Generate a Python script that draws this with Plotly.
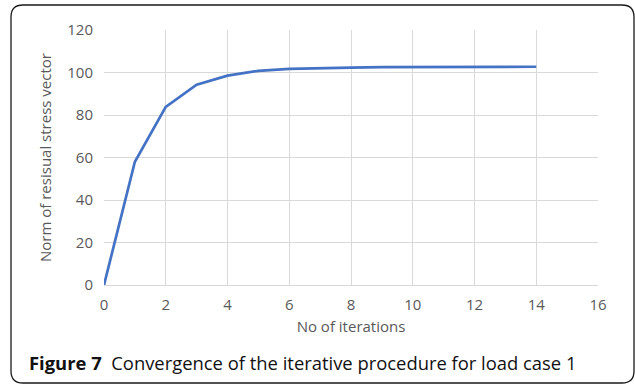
import plotly.graph_objects as go

# Convergence history of the iterative procedure (load case 1)
iterations = [0, 1, 2, 3, 4, 5, 6, 7, 8, 9, 10, 11, 12, 13, 14]
residual_norm = [0, 58.0, 83.8, 94.3, 98.5, 100.8, 101.7, 102.1, 102.3, 102.5,
                 102.6, 102.6, 102.7, 102.7, 102.7]

x_ticks = [0, 2, 4, 6, 8, 10, 12, 14, 16]
y_ticks = [0, 20, 40, 60, 80, 100, 120]

W, H = 635, 387
L, R, T, B = 104, 37, 30, 102
pw, ph = W - L - R, H - T - B


def px(x):
    return (x - L) / pw


def py(y):
    return (H - B - y) / ph


fig = go.Figure()
fig.add_trace(go.Scatter(
    x=iterations, y=residual_norm, mode="lines",
    line=dict(color="#4472C4", width=2.7),
    hoverinfo="x+y",
))

tick_font = dict(family="Open Sans, Noto Sans, sans-serif", size=15, color="#595959")
title_font = dict(family="Open Sans, Noto Sans, sans-serif", size=15, color="#595959")

fig.update_xaxes(
    range=[0, 16], tickvals=x_ticks, showgrid=True, gridcolor="#d9d9d9", gridwidth=1,
    zeroline=False, showline=True, linecolor="#d9d9d9", linewidth=1,
    ticks="", tickfont=tick_font, ticklabelstandoff=6,
    title=dict(text="No of iterations", font=title_font, standoff=8),
)
fig.update_yaxes(
    range=[0, 120], tickvals=y_ticks, showgrid=True, gridcolor="#d9d9d9", gridwidth=1,
    zeroline=False, showline=False, mirror=False,
    ticks="", tickfont=tick_font, ticklabelstandoff=10,
    title=dict(text="Norm of resisual stress vector", font=title_font, standoff=12),
)

# Rounded frame around the figure
x0, x1, y0, y1 = 11, 634, 5, 383
r = 12
path = (
    f"M {px(x0 + r)} {py(y0)} L {px(x1 - r)} {py(y0)} "
    f"Q {px(x1)} {py(y0)} {px(x1)} {py(y0 + r)} "
    f"L {px(x1)} {py(y1 - r)} Q {px(x1)} {py(y1)} {px(x1 - r)} {py(y1)} "
    f"L {px(x0 + r)} {py(y1)} Q {px(x0)} {py(y1)} {px(x0)} {py(y1 - r)} "
    f"L {px(x0)} {py(y0 + r)} Q {px(x0)} {py(y0)} {px(x0 + r)} {py(y0)} Z"
)
fig.add_shape(type="path", xref="paper", yref="paper", path=path,
              line=dict(color="#1a1a1a", width=1.3), layer="below")

fig.add_annotation(
    xref="paper", yref="paper", x=px(27), y=py(362), xanchor="left", yanchor="middle",
    text="<b>Figure 7</b>  Convergence of the iterative procedure for load case 1",
    showarrow=False, font=dict(family="Open Sans, Noto Sans, sans-serif", size=18.4, color="#111111"),
)

fig.update_layout(
    width=W, height=H, margin=dict(l=L, r=R, t=T, b=B),
    paper_bgcolor="white", plot_bgcolor="white", showlegend=False,
)

fig.write_html("out.html")
